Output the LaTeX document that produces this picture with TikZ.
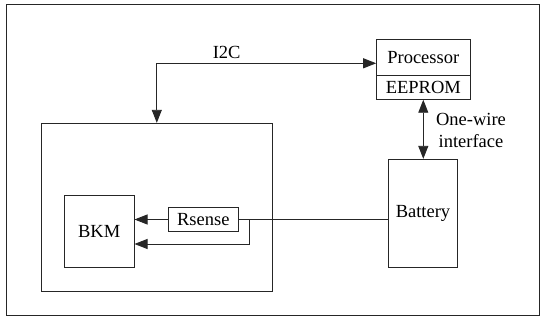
\documentclass[tikz,border=0pt]{standalone}
\usepackage{fontspec}
\setmainfont{Liberation Serif}
\usetikzlibrary{arrows.meta}
\begin{document}
\begin{tikzpicture}[x=1pt,y=-1pt,
  every node/.style={font=\fontsize{18.5}{22}\selectfont, inner sep=0pt},
  box/.style={draw=black!85, line width=0.9pt, fill=white},
  wire/.style={draw=black!85, line width=0.9pt},
  arr/.style={wire, -{Triangle[length=13pt,width=10pt]}},
  darr/.style={wire, {Triangle[length=13pt,width=10pt]}-{Triangle[length=13pt,width=10pt]}}]
\useasboundingbox (0,0) rectangle (542,320);
\draw[wire] (6,4) rectangle (539,315.5);
% boxes
\node[box, minimum width=231.7pt, minimum height=168.4pt] (mod) at (156.8,207.5) {};
\node[box, minimum width=69.7pt, minimum height=71.6pt] (bkm) at (99.2,231.5) {BKM};
\node[box, minimum width=70pt, minimum height=23.6pt] (rs) at (203.3,219.5) {Rsense};
\node[box, minimum width=69.4pt, minimum height=108pt] (bat) at (423,213.3) {Battery};
\node[box, minimum width=93.3pt, minimum height=36pt] (proc) at (423.3,57.3) {Processor};
\node[box, minimum width=93.3pt, minimum height=24pt] (eep) at (423.3,87.3) {EEPROM};
% connectors
\coordinate (c) at (156.8,63.3);
\draw[darr] (mod.north) -- (c) -- (proc.west |- c);
\node (i2c) at (226.7,52.7) {I2C};
\draw[darr] (eep.south) -- (eep.south |- bat.north);
\node[align=center] (ow) at (471,130) {One-wire\\interface};
\draw[arr] (rs.west) -- (bkm.east |- rs.west);
\draw[wire] (rs.east) -- (bat.west |- rs.east);
\coordinate (b1) at (249.3,219.5);
\coordinate (b2) at (249.3,244);
\draw[arr] (b1) -- (b2) -- (bkm.east |- b2);
\end{tikzpicture}
\end{document}
